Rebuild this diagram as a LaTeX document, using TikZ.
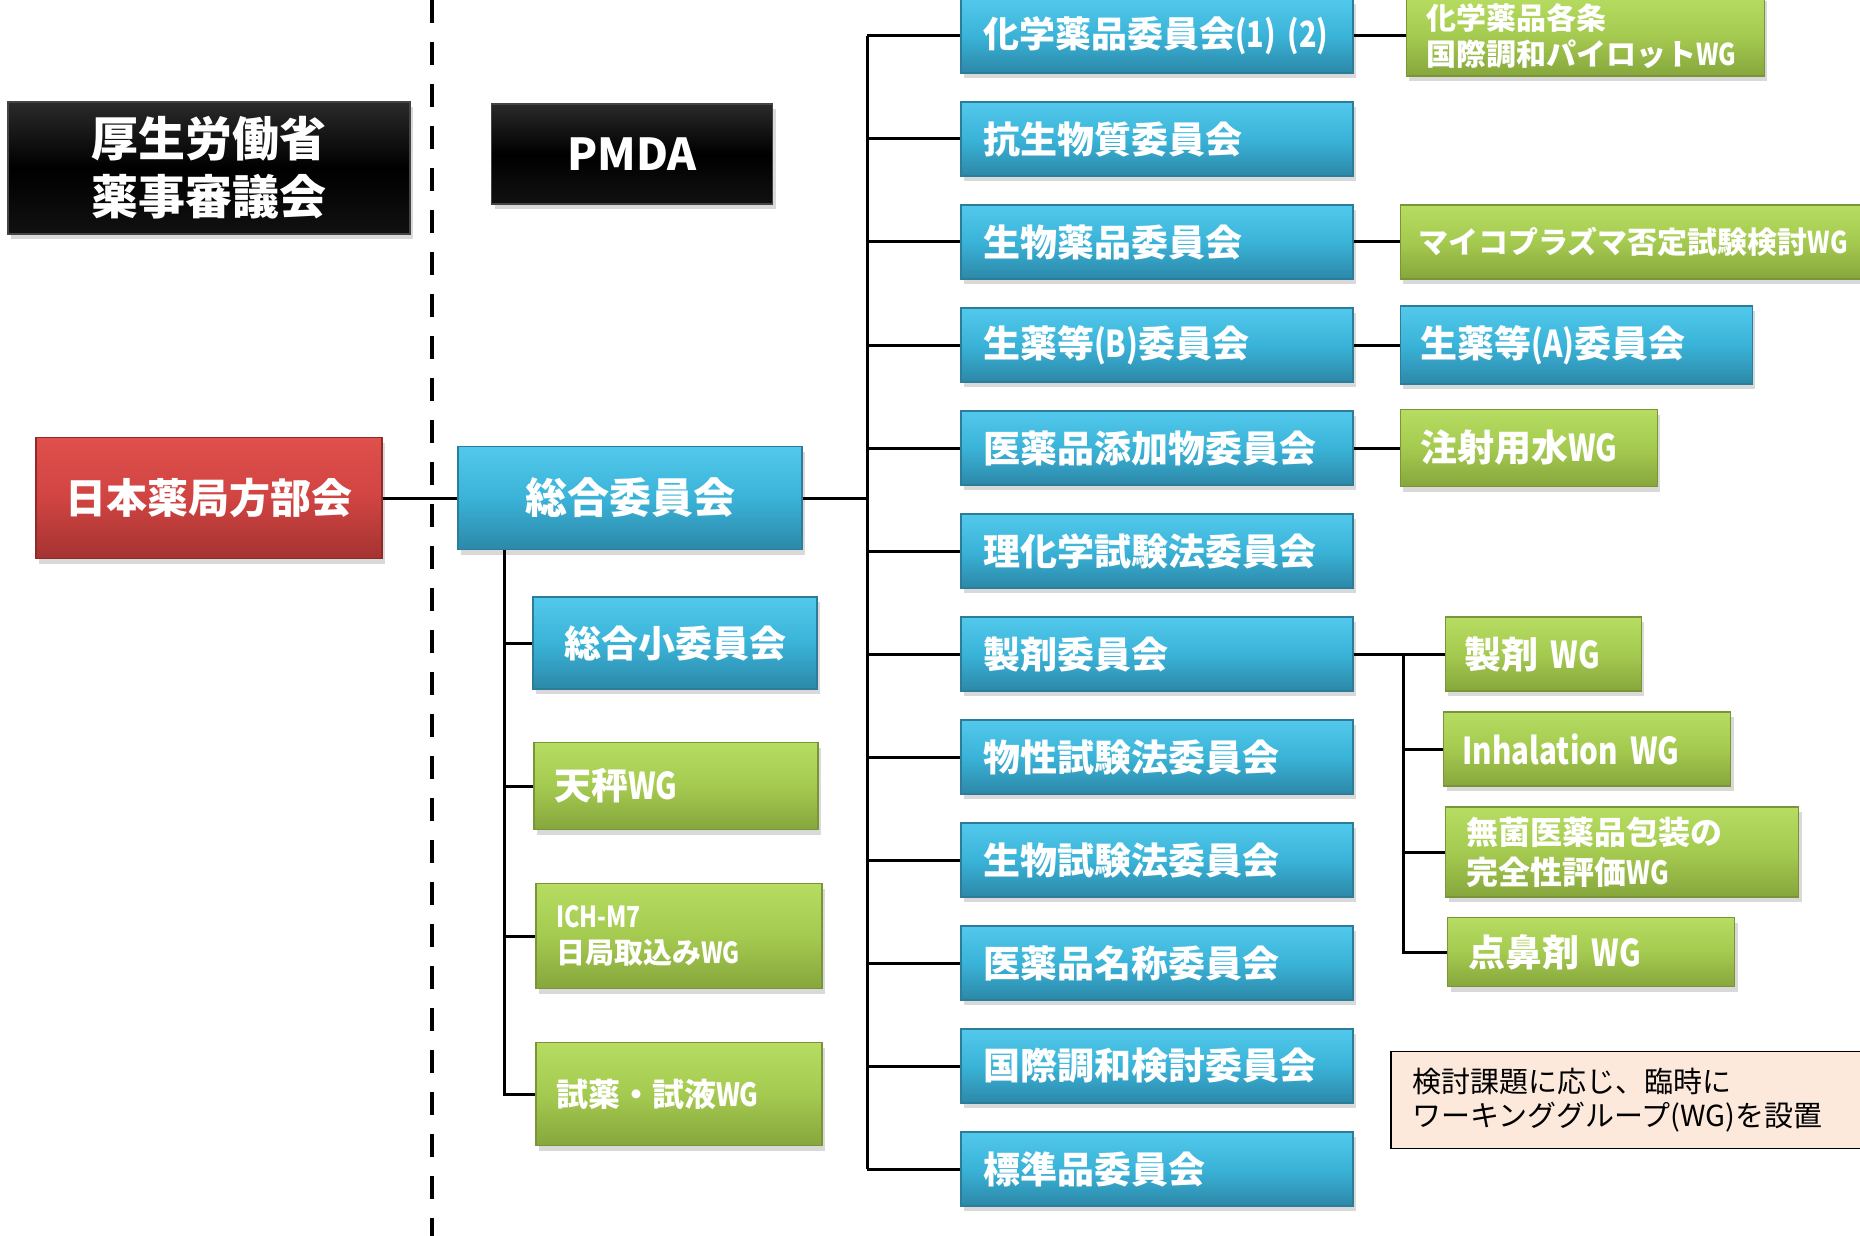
\documentclass[tikz,border=0pt]{standalone}
\usepackage{fontspec}
\usepackage{tikz}
\usetikzlibrary{positioning,shadows}
\newfontfamily\jpfont{Noto Sans CJK JP}
\newfontfamily\narrowfont{Noto Sans CJK JP}[FakeStretch=0.8]
\newcommand{\jpsize}[2]{\fontsize{#1}{#2}\selectfont}
\definecolor{BlueTop}{HTML}{52C9EC}
\definecolor{BlueMid}{HTML}{3AB3D8}
\definecolor{BlueBottom}{HTML}{2C88A8}
\definecolor{BlueEdge}{HTML}{2B7D99}
\definecolor{GreenTop}{HTML}{B6DC62}
\definecolor{GreenMid}{HTML}{A5CA50}
\definecolor{GreenBottom}{HTML}{86A63C}
\definecolor{GreenEdge}{HTML}{789638}
\definecolor{RedTop}{HTML}{E0504C}
\definecolor{RedMid}{HTML}{D04442}
\definecolor{RedBottom}{HTML}{A43331}
\definecolor{RedEdge}{HTML}{8C2B29}
\definecolor{DarkTop}{HTML}{2A2A2A}
\definecolor{DarkBottom}{HTML}{111111}
\definecolor{DarkEdge}{HTML}{444444}
\definecolor{NoteFill}{HTML}{FCE9DC}

\begin{document}
\begin{tikzpicture}[
    x=0.5pt, y=-0.5pt,
    node distance=51.5pt,
    panel/.style={
		rectangle,
		text=white,
		inner ysep=0pt,
		inner xsep=11pt,
		line width=0.6pt,
		drop shadow={shadow xshift=1.5pt, shadow yshift=-2.5pt, opacity=0.3}
	},
	dark/.style={panel, draw=DarkEdge, top color=DarkTop, bottom color=DarkBottom, middle color=black, align=center},
	redbox/.style={panel, draw=RedEdge, top color=RedTop, bottom color=RedBottom, middle color=RedMid, align=center},
	bluebox/.style={panel, draw=BlueEdge, top color=BlueTop, bottom color=BlueBottom, middle color=BlueMid},
	greenbox/.style={panel, draw=GreenEdge, top color=GreenTop, bottom color=GreenBottom, middle color=GreenMid},
	committee/.style={
		bluebox,
		text width=174pt,
		minimum height=37pt,
		align=left,
		font=\jpfont\bfseries\jpsize{18.5}{22}
	},
	conn/.style={line width=1.5pt},
	divider/.style={line width=2.4pt, dash pattern=on 11.5pt off 9.5pt},
	note/.style={
		rectangle,
		draw=black,
		line width=0.8pt,
		fill=NoteFill,
		inner xsep=11pt,
		align=left,
		text width=223pt,
		minimum height=48.5pt,
		font=\jpfont\jpsize{14.5}{17}
	}
  ]
  \useasboundingbox (0,0) rectangle (1860,1236);
  \clip (0,0) rectangle (1860,1236);

  \coordinate (ltrunk) at (504,0);
  \coordinate (rtrunk) at (867,0);
  \coordinate (ftrunk) at (1403,0);
  \coordinate (divtop) at (432,0);
  \coordinate (divbot) at (432,1236);
  \draw [divider] (divtop) -- (divbot);

  % We start by placing the blocks
  \node [dark, minimum width=201pt, minimum height=66pt, font=\jpfont\bfseries\jpsize{23.5}{29}] (mhlw) at (209,168) {厚生労働省\\薬事審議会};
  \node [dark, minimum width=140.5pt, minimum height=50pt, font=\jpfont\bfseries\jpsize{22}{26}] (pmda) at (632,154) {PMDA};

  \node [redbox, minimum width=173pt, minimum height=60.5pt, font=\jpfont\bfseries\jpsize{20.5}{24}] (jp) at (209,498) {日本薬局方部会};
  \node [bluebox, align=center, minimum width=172pt, minimum height=51.5pt, font=\jpfont\bfseries\jpsize{21}{25}] (gen) at (630,498) {総合委員会};

  % left branch
  \node [bluebox, align=center, minimum width=142pt, minimum height=46pt, font=\jpfont\bfseries\jpsize{18.5}{22}] (sub) at (675,643) {総合小委員会};
  \node [greenbox, inner xsep=10pt, text width=122pt, align=left, minimum height=43.5pt, font=\jpfont\bfseries\jpsize{18.5}{22}] (bal) at (676,786) {天秤{\narrowfont WG}};
  \node [greenbox, inner xsep=10pt, text width=123pt, align=left, minimum height=52.5pt, font=\jpfont\bfseries\jpsize{14.5}{18}] (ich) at (679,936) {{\narrowfont ICH-M7}\\日局取込み{\narrowfont WG}};
  \node [greenbox, inner xsep=10pt, text width=123pt, align=left, minimum height=51.5pt, font=\jpfont\bfseries\jpsize{16}{20}] (reag) at (679,1094) {試薬・試液{\narrowfont WG}};

  % committees
  \node [committee, font=\jpfont\bfseries\jpsize{18}{22}] (chem) at (1157,36) {\mbox{化学薬品委員会{\narrowfont(1)~(2)}}};
  \node [committee, below of=chem] (anti) {抗生物質委員会};
  \node [committee, below of=anti] (bio) {生物薬品委員会};
  \node [committee, below of=bio] (crudeB) {生薬等{\narrowfont(B)}委員会};
  \node [committee, below of=crudeB] (excip) {医薬品添加物委員会};
  \node [committee, below of=excip] (phys) {理化学試験法委員会};
  \node [committee, below of=phys] (form) {製剤委員会};
  \node [committee, below of=form] (prop) {物性試験法委員会};
  \node [committee, below of=prop] (biot) {生物試験法委員会};
  \node [committee, below of=biot] (naming) {医薬品名称委員会};
  \node [committee, below of=naming] (harm) {国際調和検討委員会};
  \node [committee, below of=harm] (std) {標準品委員会};

  % working groups on the right
  \node [greenbox, right=26pt of chem, inner xsep=10pt, text width=159pt, align=left, minimum height=40pt, font=\jpfont\bfseries\jpsize{15}{18}] (chemwg) {化学薬品各条\\国際調和パイロット{\narrowfont WG}};
  \node [greenbox, right=23pt of bio, inner xsep=9pt, text width=232pt, align=left, minimum height=37pt, font=\jpfont\bfseries\jpsize{15}{18}] (myco) {マイコプラズマ否定試験検討{\narrowfont WG}};
  \node [bluebox, right=23pt of crudeB, inner xsep=10pt, text width=156pt, align=left, minimum height=39pt, font=\jpfont\bfseries\jpsize{18.5}{22}] (crudeA) {生薬等{\narrowfont(A)}委員会};
  \node [greenbox, right=23pt of excip, inner xsep=10pt, text width=108.5pt, align=left, minimum height=38.5pt, font=\jpfont\bfseries\jpsize{18.5}{22}] (water) {注射用水{\narrowfont WG}};
  \node [greenbox, right=45.5pt of form, inner xsep=9.5pt, text width=79pt, align=left, minimum height=37pt, font=\jpfont\bfseries\jpsize{18.5}{22}] (formwg) {製剤 {\narrowfont WG}};
  \node [greenbox, anchor=west, inner xsep=9.5pt, text width=124.5pt, align=left, minimum height=37pt, font=\narrowfont\bfseries\jpsize{18.5}{22}] (inh) at (1443,749) {Inhalation WG};
  \node [greenbox, anchor=west, inner xsep=10.5pt, text width=155.5pt, align=left, minimum height=45pt, font=\jpfont\bfseries\jpsize{16}{20}] (steril) at (1445,852) {無菌医薬品包装の\\完全性評価{\narrowfont WG}};
  \node [greenbox, anchor=west, inner xsep=10.5pt, text width=122.5pt, align=left, minimum height=34.5pt, font=\jpfont\bfseries\jpsize{18.5}{22}] (nasal) at (1447,952) {点鼻剤 {\narrowfont WG}};

  \node [note, anchor=west] (remark) at (1390,1100) {検討課題に応じ、臨時に\\ワーキンググループ(WG)を設置};

  % connectors
  \draw [conn] (jp) -- (gen);
  \draw [conn] (ltrunk |- gen.south) |- (reag.west);
  \draw [conn] (ltrunk |- sub.west) -- (sub.west);
  \draw [conn] (ltrunk |- bal.west) -- (bal.west);
  \draw [conn] (ltrunk |- ich.west) -- (ich.west);

  \draw [conn] (gen.east) -- (rtrunk |- gen.east);
  \draw [conn] (rtrunk |- chem.west) -- (rtrunk |- std.west);
  \draw [conn] (rtrunk |- chem.west) -- (chem.west);
  \draw [conn] (rtrunk |- anti.west) -- (anti.west);
  \draw [conn] (rtrunk |- bio.west) -- (bio.west);
  \draw [conn] (rtrunk |- crudeB.west) -- (crudeB.west);
  \draw [conn] (rtrunk |- excip.west) -- (excip.west);
  \draw [conn] (rtrunk |- phys.west) -- (phys.west);
  \draw [conn] (rtrunk |- form.west) -- (form.west);
  \draw [conn] (rtrunk |- prop.west) -- (prop.west);
  \draw [conn] (rtrunk |- biot.west) -- (biot.west);
  \draw [conn] (rtrunk |- naming.west) -- (naming.west);
  \draw [conn] (rtrunk |- harm.west) -- (harm.west);
  \draw [conn] (rtrunk |- std.west) -- (std.west);

  \draw [conn] (chem) -- (chemwg);
  \draw [conn] (bio) -- (myco);
  \draw [conn] (crudeB) -- (crudeA);
  \draw [conn] (excip) -- (water);
  \draw [conn] (form) -- (formwg);
  \draw [conn] (ftrunk |- formwg.west) |- (nasal.west);
  \draw [conn] (ftrunk |- inh.west) -- (inh.west);
  \draw [conn] (ftrunk |- steril.west) -- (steril.west);
\end{tikzpicture}
\end{document}
